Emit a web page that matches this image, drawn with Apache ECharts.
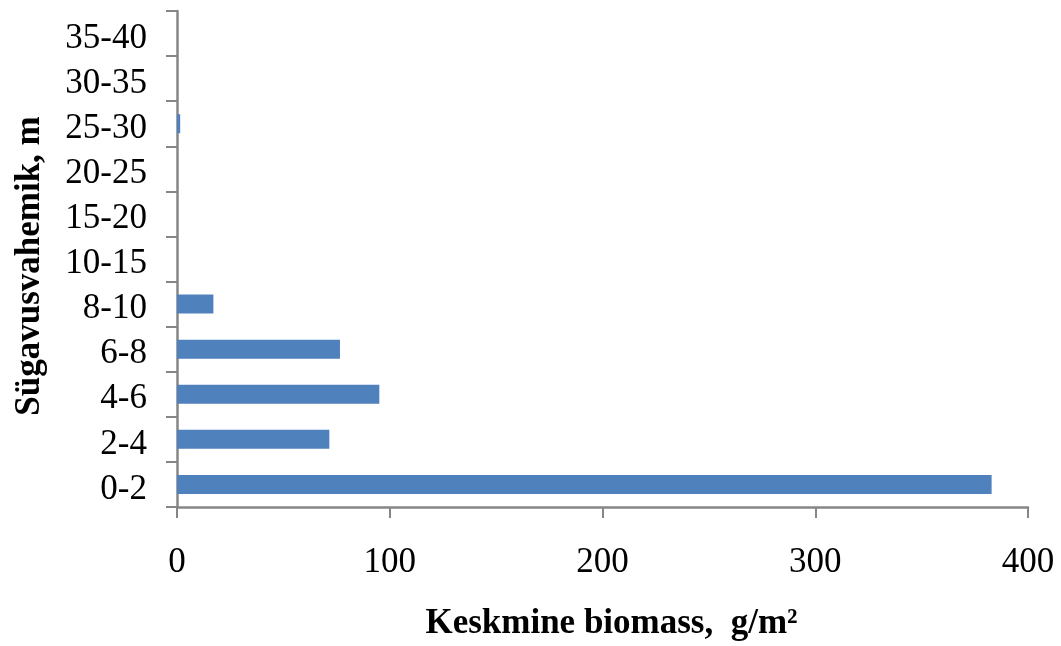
<!DOCTYPE html>
<html>
<head>
<meta charset="utf-8">
<script src="https://cdn.jsdelivr.net/npm/echarts@6/dist/echarts.min.js"></script>
<style>
  html, body { margin: 0; padding: 0; background: #fff; }
  #chart { width: 1061px; height: 646px; }
</style>
</head>
<body>
<div id="chart"></div>
<script>
// Depth intervals (m), from shallowest to deepest
const depthRanges = ['0-2', '2-4', '4-6', '6-8', '8-10', '10-15', '15-20', '20-25', '25-30', '30-35', '35-40'];
// Mean biomass per depth interval, g/m2
const biomass = [382.9, 71.6, 95.1, 76.6, 17.1, 0, 0, 0, 1.5, 0, 0];
// Value axis ticks
const xMin = 0, xMax = 400, xStep = 100;

const font = 'Liberation Serif, Times New Roman, serif';
const axisGray = '#868686';

const chart = echarts.init(document.getElementById('chart'), null, { renderer: 'canvas' });
chart.setOption({
  animation: false,
  backgroundColor: '#ffffff',
  grid: { left: 177, right: 33, top: 11, bottom: 137, containLabel: false },
  xAxis: {
    type: 'value',
    min: xMin, max: xMax, interval: xStep,
    name: 'Keskmine biomass,  g/m²',
    nameLocation: 'middle',
    nameGap: 99,
    nameTextStyle: { fontFamily: font, fontSize: 35, fontWeight: 'bold', color: '#000', padding: [0, 0, 0, 18] },
    axisLine: { show: true, lineStyle: { color: axisGray, width: 2.5 } },
    axisTick: { show: true, length: 11, lineStyle: { color: axisGray, width: 2 } },
    axisLabel: { fontFamily: font, fontSize: 35, color: '#000', margin: 38 },
    splitLine: { show: false }
  },
  yAxis: {
    type: 'category',
    data: depthRanges,
    name: 'Sügavusvahemik, m',
    nameLocation: 'middle',
    nameGap: 130,
    nameRotate: 90,
    nameTextStyle: { fontFamily: font, fontSize: 35, fontWeight: 'bold', color: '#000', padding: [0, 14, 0, 0] },
    axisLine: { show: true, lineStyle: { color: axisGray, width: 2.5 } },
    axisTick: { show: true, length: 11, lineStyle: { color: axisGray, width: 2 } },
    axisLabel: {
      interval: 0, hideOverlap: false,
      margin: 30,
      // labels sit a little below the band centre
      formatter: v => '{d|' + v + '}',
      rich: {
        d: { fontFamily: font, fontSize: 35, color: '#000', lineHeight: 35, padding: [10, 0, 0, 0] }
      }
    },
    splitLine: { show: false }
  },
  series: [{
    type: 'bar',
    data: biomass,
    barWidth: 19,
    itemStyle: { color: '#4F81BD' }
  }]
});
</script>
</body>
</html>
